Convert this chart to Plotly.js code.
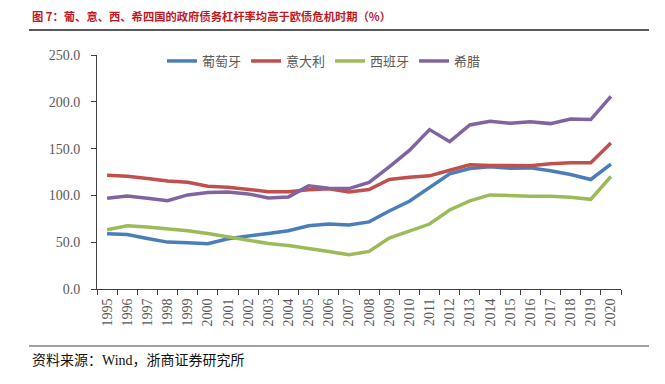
<!DOCTYPE html>
<html>
<head>
<meta charset="utf-8">
<script src="https://cdn.plot.ly/plotly-3.0.1.min.js"></script>
<style>html,body{margin:0;padding:0;background:#fff;}#chart{width:665px;height:384px;}</style>
</head>
<body>
<div id="chart"></div>
<script>
var years = ["1995","1996","1997","1998","1999","2000","2001","2002","2003","2004","2005","2006","2007","2008","2009","2010","2011","2012","2013","2014","2015","2016","2017","2018","2019","2020"];
var portugal = [59.0,58.3,54.0,50.1,49.4,48.3,53.6,56.9,59.4,62.2,67.6,69.4,68.3,71.7,83.3,93.7,108.0,123.0,128.8,130.5,129.1,129.4,126.3,122.3,117.0,133.4];
var italy    = [121.6,120.5,118.0,115.5,114.0,109.8,108.7,106.0,104.0,104.0,106.0,107.0,103.7,106.2,117.0,119.4,120.9,126.9,132.7,132.0,131.6,131.8,133.8,134.8,134.8,155.9];
var spain    = [63.3,67.6,66.2,64.4,62.2,59.4,55.8,52.2,48.6,46.5,43.6,40.0,36.5,40.2,54.4,61.9,69.4,84.4,94.1,100.5,99.4,99.1,99.0,98.0,95.8,120.2];
var greece   = [96.9,99.4,96.9,94.4,100.5,103.0,103.7,101.6,97.3,98.4,110.2,107.6,107.3,113.8,130.6,148.0,170.3,157.4,175.2,179.2,177.0,178.8,176.7,181.7,181.0,205.7];
var seriesNames = ["葡萄牙","意大利","西班牙","希腊"];
var yTicks = [0,50,100,150,200,250];

var colors = ["#4a7ebb","#c0504d","#9bbb59","#8064a2"];
var data = [portugal, italy, spain, greece].map(function(v, i){
  return {x: years, y: v, name: seriesNames[i], type: "scatter", mode: "lines",
          line: {color: colors[i], width: 3.5}, hoverinfo: "x+y"};
});

var L = 97, R = 621, T = 55, B = 289;
function px(x){ return (x - L) / (R - L); }
function py(y){ return (B - y) / (B - T); }

var layout = {
  width: 665, height: 384,
  margin: {l: L, r: 665 - R, t: T, b: 384 - B, pad: 0},
  paper_bgcolor: "#fff", plot_bgcolor: "#fff",
  showlegend: true,
  legend: {orientation: "h", x: px(162), xanchor: "left", y: py(61), yanchor: "middle",
           font: {family: "Noto Sans CJK SC, sans-serif", size: 13, color: "#595959"},
           bgcolor: "rgba(0,0,0,0)", itemwidth: 30, traceorder: "normal"},
  xaxis: {type: "category", range: [-0.5, 25.5], showgrid: false, zeroline: false,
          showline: true, linecolor: "#404040", linewidth: 1,
          ticks: "outside", tickson: "boundaries", ticklen: 5, tickcolor: "#404040",
          tickangle: -90, ticklabelstandoff: 3,
          tickfont: {family: "Liberation Serif, serif", size: 14, color: "#595959"},
          fixedrange: true},
  yaxis: {range: [0, 250], tickvals: yTicks, tickformat: ".1f", showgrid: false, zeroline: false,
          showline: true, linecolor: "#404040", linewidth: 1,
          ticks: "outside", ticklen: 5, tickcolor: "#404040", ticklabelstandoff: 8,
          tickfont: {family: "Liberation Serif, serif", size: 14, color: "#595959"},
          fixedrange: true},
  shapes: [
    {type: "line", xref: "paper", yref: "paper", x0: px(29), x1: px(649), y0: py(30), y1: py(30),
     line: {color: "#222", width: 1.5}},
    {type: "line", xref: "paper", yref: "paper", x0: px(29), x1: px(649), y0: py(346), y1: py(346),
     line: {color: "#444", width: 1}}
  ],
  annotations: [
    {text: "<b>图 7：葡、意、西、希四国的政府债务杠杆率均高于欧债危机时期（%）</b>",
     xref: "paper", yref: "paper", x: px(30), y: py(16), xanchor: "left", yanchor: "middle", showarrow: false,
     font: {family: "Noto Sans CJK SC, sans-serif", size: 11.3, color: "#c0191f"}},
    {text: "资料来源：Wind，浙商证券研究所", xref: "paper", yref: "paper", x: px(30), y: py(360),
     xanchor: "left", yanchor: "middle", showarrow: false,
     font: {family: "Liberation Serif, Noto Sans CJK SC, serif", size: 14, color: "#111"}}
  ]
};

Plotly.newPlot("chart", data, layout, {displayModeBar: false, staticPlot: true});
</script>
</body>
</html>
